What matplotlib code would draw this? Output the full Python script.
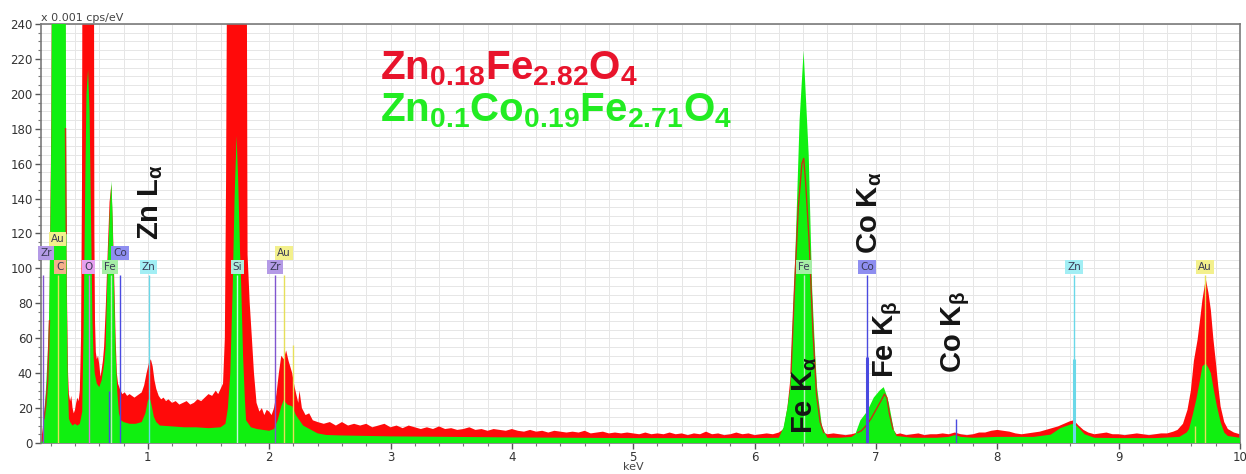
import numpy as np
import matplotlib
matplotlib.use("Agg")
import matplotlib.pyplot as plt
from matplotlib.ticker import MultipleLocator

# ---------------- data ----------------
red_kev = [0.12, 0.13, 0.145, 0.16, 0.175, 0.19, 0.200, 0.206, 0.212, 0.318, 0.322, 0.328, 0.335, 0.343,
           0.35, 0.36, 0.37, 0.38, 0.39, 0.40, 0.41, 0.42, 0.43, 0.44, 0.45, 0.458, 0.462, 0.556, 0.56,
           0.565, 0.572, 0.58, 0.59, 0.60, 0.61, 0.62, 0.63, 0.64, 0.655, 0.67, 0.685, 0.70, 0.712, 0.725,
           0.735, 0.745, 0.755, 0.77, 0.79, 0.81, 0.83, 0.85, 0.87, 0.89, 0.91, 0.93, 0.95, 0.97, 0.99,
           1.01, 1.025, 1.04, 1.055, 1.07, 1.09, 1.11, 1.13, 1.15, 1.17, 1.20, 1.23, 1.26, 1.29, 1.32,
           1.35, 1.38, 1.41, 1.44, 1.47, 1.50, 1.53, 1.56, 1.58, 1.60, 1.62, 1.635, 1.645, 1.655, 1.815,
           1.822, 1.84, 1.857, 1.875, 1.896, 1.92, 1.94, 1.96, 1.98, 2.00, 2.02, 2.04, 2.06, 2.08, 2.10,
           2.12, 2.14, 2.16, 2.19, 2.21, 2.24, 2.25, 2.27, 2.30, 2.33, 2.36, 2.40, 2.45, 2.50,
           2.55, 2.60, 2.65, 2.70, 2.75, 2.80, 2.85, 2.90, 2.95, 3.00, 3.05, 3.10, 3.15, 3.20, 3.25,
           3.30, 3.35, 3.40, 3.45, 3.50, 3.55, 3.60, 3.65, 3.70, 3.75, 3.80, 3.85, 3.90, 3.95, 4.00,
           4.05, 4.10, 4.15, 4.20, 4.25, 4.30, 4.35, 4.40, 4.45, 4.50, 4.55, 4.60, 4.65, 4.70, 4.75,
           4.80, 4.85, 4.90, 4.95, 5.00, 5.05, 5.10, 5.15, 5.20, 5.25, 5.30, 5.35, 5.40, 5.45, 5.50,
           5.55, 5.60, 5.65, 5.70, 5.75, 5.80, 5.85, 5.90, 5.95, 6.00, 6.05, 6.10, 6.15, 6.20,
           6.24, 6.27, 6.30, 6.33, 6.36, 6.39, 6.405, 6.42, 6.45, 6.48, 6.51, 6.54, 6.57, 6.60, 6.65,
           6.70, 6.75, 6.80, 6.85, 6.88, 6.92, 6.96, 7.00, 7.04, 7.07, 7.09, 7.11, 7.14, 7.17, 7.20,
           7.25, 7.30, 7.35, 7.40, 7.45, 7.50, 7.55, 7.60, 7.65, 7.70, 7.75, 7.80, 7.85, 7.90, 7.95,
           8.00, 8.05, 8.10, 8.15, 8.20, 8.25, 8.30, 8.35, 8.40, 8.45, 8.50, 8.55, 8.60, 8.63, 8.67,
           8.71, 8.75, 8.80, 8.85, 8.90, 8.95, 9.00, 9.05, 9.10, 9.15, 9.20, 9.25, 9.30, 9.35, 9.40,
           9.45, 9.485, 9.53, 9.567, 9.595, 9.62, 9.65, 9.67, 9.69, 9.718, 9.74, 9.76, 9.78, 9.80,
           9.82, 9.84, 9.87, 9.90, 9.95, 10.0]
red_cps = [0, 6, 14, 22, 35, 70, 150, 189, 300, 300, 180, 120, 80, 40,
           28, 24, 27, 20, 17, 19, 23, 26, 24, 30, 60, 150, 300, 300, 120,
           70, 52, 48, 50, 45, 38, 42, 47, 55, 80, 110, 138, 148, 125, 90,
           60, 40, 34, 31, 28, 29, 27, 28, 27, 26, 27, 28, 29, 33, 40,
           46, 48, 44, 36, 31, 27, 25, 26, 24, 25, 23, 24, 22, 23, 24,
           22, 23, 25, 24, 26, 28, 27, 30, 28, 31, 34, 60, 150, 300, 300,
           108, 80, 61, 40, 23, 18, 20, 16, 19, 18, 16, 20, 28, 40, 50,
           48, 53, 47, 40, 32, 23, 30, 20, 16, 17, 13, 12, 11, 12,
           10, 12, 10, 11, 10, 11, 9, 10, 11, 9, 10, 8.5, 10, 9, 8,
           9, 8, 9.5, 8, 8.5, 7.5, 8, 9, 7.5, 8, 7, 8, 7.5, 7, 8,
           7, 6.5, 7.5, 6.5, 7, 6, 7, 6.5, 6, 6.5, 6, 7, 5.5, 6, 6.5,
           5.5, 6, 5.5, 6, 5.5, 5, 6, 5, 5.5, 5, 6, 5, 5.5, 4.5, 5.5,
           5, 6.5, 5, 5.5, 4.5, 5, 6, 5, 5.5, 4.5, 5, 5.5, 5, 6,
           8, 20, 40, 90, 135, 160, 163, 150, 115, 65, 28, 12, 6, 5, 5.5,
           5, 4.5, 5, 6, 7, 10, 14, 19, 24, 28, 26, 17, 8, 5, 5.5,
           4.5, 5, 5.5, 4.5, 5, 5, 5.5, 5, 6, 5, 4.5, 5, 6, 6, 7,
           7.5, 7, 6.5, 5.5, 5, 5.5, 6, 6.5, 7.5, 8.5, 9.5, 11, 12.5, 13, 10,
           7.5, 6, 5, 5.5, 6, 5, 5, 4.5, 5, 5.5, 5, 4.5, 5, 5.5, 5.5,
           6.5, 7.5, 11, 19, 30, 47, 59, 70, 82, 94, 86, 76, 60, 47,
           33, 21, 12, 8, 6, 5]

green_kev = [0.12, 0.135, 0.145, 0.16, 0.175, 0.186, 0.198, 0.205, 0.212, 0.323, 0.328, 0.332, 0.338, 0.343,
             0.35, 0.36, 0.38, 0.40, 0.42, 0.44, 0.46, 0.472, 0.485, 0.495, 0.508, 0.52, 0.532, 0.544,
             0.553, 0.563, 0.58, 0.60, 0.62, 0.64, 0.653, 0.665, 0.673, 0.69, 0.70, 0.708, 0.716, 0.725,
             0.735, 0.748, 0.762, 0.78, 0.80, 0.85, 0.90, 0.95, 0.98, 1.00, 1.015, 1.03, 1.05, 1.07,
             1.10, 1.20, 1.30, 1.40, 1.50, 1.60, 1.64, 1.66, 1.68, 1.70, 1.715, 1.732, 1.745, 1.76,
             1.77, 1.785, 1.80, 1.81, 1.85, 1.90, 2.00, 2.04, 2.07, 2.10, 2.12, 2.15, 2.19, 2.22,
             2.25, 2.28, 2.32, 2.36, 2.40, 2.47, 2.60, 3.00, 3.50, 4.00, 4.50, 5.00, 5.50, 6.00,
             6.20, 6.239, 6.27, 6.295, 6.336, 6.371, 6.404, 6.425, 6.446, 6.474, 6.50, 6.515, 6.556,
             6.60, 6.70, 6.80, 6.83, 6.872, 6.927, 6.982, 7.03, 7.064, 7.085, 7.106, 7.13, 7.147,
             7.17, 7.30, 7.50, 7.60, 7.65, 7.70, 7.80, 8.00, 8.30, 8.44, 8.52, 8.60, 8.634, 8.68,
             8.72, 8.80, 9.00, 9.30, 9.50, 9.56, 9.58, 9.61, 9.64, 9.67, 9.69, 9.718, 9.74, 9.76,
             9.785, 9.81, 9.84, 9.87, 9.90, 10.0]
green_cps = [0, 1, 15, 30, 50, 70, 130, 175, 300, 300, 140, 89, 50, 30,
             14, 12, 10, 11, 10, 11, 18, 70, 150, 200, 214, 190, 130, 70,
             50, 40, 34, 32, 36, 45, 55, 90, 108, 137, 150, 135, 108, 80,
             51, 30, 17, 13, 12, 11, 11, 12, 17, 24, 26, 22, 15, 12,
             10, 9.5, 9, 9, 8.5, 9, 11, 20, 40, 90, 140, 176, 150, 110,
             90, 50, 25, 13, 9, 8, 7, 8, 13, 21, 24.6, 22, 21, 16,
             13, 10, 8.5, 7, 5.5, 4.6, 4.3, 3.8, 3.5, 3.2, 3.0, 2.8, 2.8, 2.8,
             3, 9, 20, 32, 108, 185, 224.6, 195, 165, 89, 50, 32, 9,
             3, 3, 3.5, 5, 13, 18, 26, 30, 32, 28, 23, 14, 7.5,
             4, 3, 3, 3.5, 4.5, 3.5, 3, 3.5, 3.5, 4.8, 8.5, 10.5, 11.2, 8,
             5, 3, 2.8, 2.8, 3.5, 6, 8, 16, 25, 36, 44, 45.5, 43, 40,
             30, 21, 12, 6, 4, 3]

# element marker boxes
box_text = ['Zr', 'Au', 'C', 'O', 'Fe', 'Co', 'Zn', 'Si', 'Zr', 'Au', 'Fe', 'Co', 'Zn', 'Au']
box_kev = [0.162, 0.256, 0.275, 0.513, 0.69, 0.772, 1.006, 1.739, 2.047, 2.12, 6.405, 6.93, 8.634, 9.71]
box_y = [109, 117, 101, 101, 101, 109, 101, 101, 101, 109, 101, 101, 101, 101]

# element marker lines
line_kev = [0.14, 0.258, 0.513, 0.70, 0.68, 0.772, 1.006, 1.739, 2.047, 2.12, 2.196, 6.405, 6.93, 7.656, 8.634, 9.63, 9.71]
line_top = [96, 96, 96, 96, 30, 96, 96, 96, 96, 96, 56, 96, 96, 14, 96, 10, 96]
line_el = ['Zr', 'Au', 'O', 'Fe', 'Co', 'Co', 'Zn', 'Si', 'Zr', 'Au', 'Au', 'Fe', 'Co', 'Co', 'Zn', 'Au', 'Au']
thick_kev = [6.93, 8.634]
thick_top = [49, 48]
thick_el = ['Co', 'Zn']

# rotated peak annotations
peak_text = [r'Zn L$_\mathbf{\alpha}$', r'Co K$_\mathbf{\alpha}$', r'Fe K$_\mathbf{\beta}$',
             r'Co K$_\mathbf{\beta}$', r'Fe K$_\mathbf{\alpha}$']
peak_kev = [1.02, 6.95, 7.10, 7.655, 6.41]
peak_y = [116, 108, 37, 40, 5]

# sample formulas
formula_text = [r'Zn$_{0.18}$Fe$_{2.82}$O$_4$', r'Zn$_{0.1}$Co$_{0.19}$Fe$_{2.71}$O$_4$']
formula_kev = [2.91, 2.91]
formula_y = [208, 184]

x_ticks = [1, 2, 3, 4, 5, 6, 7, 8, 9, 10]
y_ticks = [0, 20, 40, 60, 80, 100, 120, 140, 160, 180, 200, 220, 240]

# ---------------- styling ----------------
box_face = {'Zr': '#b49ae6', 'Au': '#f3f08c', 'C': '#f4b08a', 'O': '#e6a0ee', 'Fe': '#a6eea6',
            'Co': '#8e8ef0', 'Zn': '#a2eef4', 'Si': '#aeeedc'}
line_col = {'Zr': '#8055d0', 'Au': '#e6e05a', 'O': '#d67ae0', 'Fe': '#b8f0b8', 'Co': '#4a4ae0',
            'Zn': '#6ad8e8', 'Si': '#c8f4e6', 'C': '#f0a070'}
formula_col = ['#e8142c', '#22ec22']

plt.rcParams['mathtext.fontset'] = 'custom'
plt.rcParams['mathtext.rm'] = 'Liberation Sans:bold'
plt.rcParams['mathtext.it'] = 'Liberation Sans:bold'
plt.rcParams['mathtext.bf'] = 'Liberation Sans:bold'

fig = plt.figure(figsize=(12.46, 4.74), dpi=100)
ax = fig.add_axes([0.0329, 0.0654, 0.9623, 0.8840])

RED = '#ff0a0a'
GREEN = '#10f010'

rk = np.array(red_kev); rc = np.array(red_cps, dtype=float)
gk = np.array(green_kev); gc = np.array(green_cps, dtype=float)

ax.fill_between(rk, 0, rc, color=RED, lw=0, zorder=2)
ax.fill_between(gk, 0, gc, color=GREEN, lw=0, zorder=3)
# red outline where it sits inside the green area
g_at_r = np.interp(rk, gk, gc)
mask = rc < g_at_r - 0.5
ax.plot(rk, np.ma.masked_where(~mask, rc), color='#c83214', lw=1.0, zorder=4)

for k, t, el in zip(line_kev, line_top, line_el):
    ax.vlines(k, 0, t, color=line_col[el], lw=1.0, zorder=5)
for k, t, el in zip(thick_kev, thick_top, thick_el):
    ax.vlines(k, 0, t, color=line_col[el], lw=2.2, zorder=5)

for s, k, y in zip(box_text, box_kev, box_y):
    ax.text(k, y, s, fontsize=7.5, ha='center', va='center', color='#3a3a55', zorder=7,
            family='DejaVu Sans', clip_on=False,
            bbox=dict(boxstyle='square,pad=0.2', fc=box_face[s], ec='none'))

for s, k, y in zip(peak_text, peak_kev, peak_y):
    ax.text(k, y, s, rotation=90, fontsize=21, ha='center', va='bottom', color='#151515',
            family='Liberation Sans', fontweight='bold', zorder=8)

for s, k, y, c in zip(formula_text, formula_kev, formula_y, formula_col):
    ax.text(k, y, s, fontsize=29, color=c, family='Liberation Sans', fontweight='bold',
            ha='left', va='baseline', zorder=8)

ax.set_xlim(0.12, 10)
ax.set_ylim(0, 240)
ax.set_xticks(x_ticks)
ax.set_yticks(y_ticks)
ax.xaxis.set_minor_locator(MultipleLocator(0.2))
ax.yaxis.set_minor_locator(MultipleLocator(5))
ax.grid(which='both', color='#e6e6e6', lw=0.7, zorder=0)
ax.set_axisbelow(True)
ax.tick_params(which='major', direction='out', length=4, width=1, color='#555555',
               labelsize=8.5, labelcolor='#333333', pad=2)
ax.tick_params(which='minor', direction='out', length=2.5, width=0.8, color='#777777')
for sp in ax.spines.values():
    sp.set_color('#7a7a7a')
    sp.set_linewidth(1.2)

ax.text(0.0, 1.003, 'x 0.001 cps/eV', transform=ax.transAxes, fontsize=8, color='#444444',
        ha='left', va='bottom')
ax.text(5.0, -0.045, 'keV', transform=ax.get_xaxis_transform(), fontsize=8, color='#444444',
        ha='center', va='top')

fig.savefig('out.png', dpi=100)
